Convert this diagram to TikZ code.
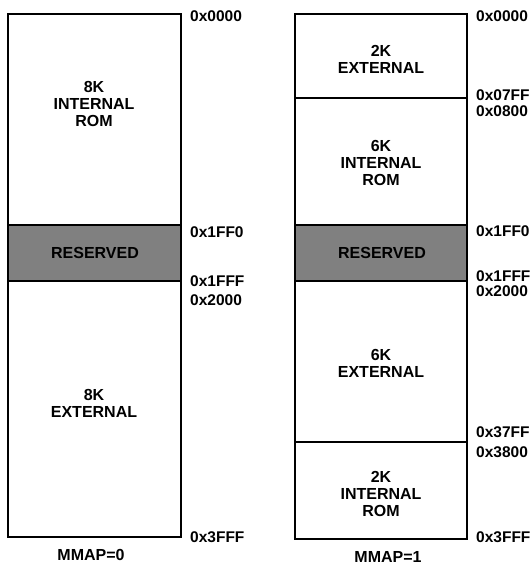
\documentclass[tikz,border=0pt]{standalone}
\usepackage{fontspec}
\setmainfont{Liberation Sans}
\tikzset{
  region/.style={draw, line width=2.2pt},
  divider/.style={draw, line width=1.5pt},
  reserved/.style={draw, line width=1.8pt, fill=black!50},
  memtext/.style={font=\fontsize{16}{17}\selectfont\bfseries, align=center, inner sep=0pt},
  addr/.style={font=\fontsize{15.5}{17}\selectfont\bfseries, anchor=west, inner sep=0pt},
}
\begin{document}
\begin{tikzpicture}[x=1pt,y=-1pt]
\useasboundingbox (0,0) rectangle (531,566);
% MMAP=0 map
\draw[region] (8,14) rectangle (181,537);
\draw[reserved] (8,225) rectangle (181,281);
\node[memtext] (introm0) at (94,104) {8K\\INTERNAL\\ROM};
\node[memtext] (res0) at (95,253) {RESERVED};
\node[memtext] (ext0) at (94,403) {8K\\EXTERNAL};
\node[addr] (a0top) at (190,16) {0x0000};
\node[addr] (a0rs) at (190,232) {0x1FF0};
\node[addr] (a0re) at (190,281) {0x1FFF};
\node[addr] (a0ex) at (190,300) {0x2000};
\node[addr] (a0end) at (190,537) {0x3FFF};
\node[memtext] (mmap0) at (91,555) {MMAP=0};
% MMAP=1 map
\draw[region] (295,14) rectangle (467,539);
\draw[divider] (295,98) -- (467,98);
\draw[divider] (295,442) -- (467,442);
\draw[reserved] (295,225) rectangle (467,281);
\node[memtext] (ext1a) at (381,59) {2K\\EXTERNAL};
\node[memtext] (introm1a) at (381,163) {6K\\INTERNAL\\ROM};
\node[memtext] (res1) at (382,253) {RESERVED};
\node[memtext] (ext1b) at (381,363) {6K\\EXTERNAL};
\node[memtext] (introm1b) at (381,494) {2K\\INTERNAL\\ROM};
\node[addr] (a1top) at (476,16) {0x0000};
\node[addr] (a1e1) at (476,95) {0x07FF};
\node[addr] (a1r1) at (476,111) {0x0800};
\node[addr] (a1rs) at (476,231) {0x1FF0};
\node[addr] (a1re) at (476,276) {0x1FFF};
\node[addr] (a1ex) at (476,291) {0x2000};
\node[addr] (a1e2) at (476,432) {0x37FF};
\node[addr] (a1r2) at (476,452) {0x3800};
\node[addr] (a1end) at (476,537) {0x3FFF};
\node[memtext] (mmap1) at (388,557) {MMAP=1};
\end{tikzpicture}
\end{document}
